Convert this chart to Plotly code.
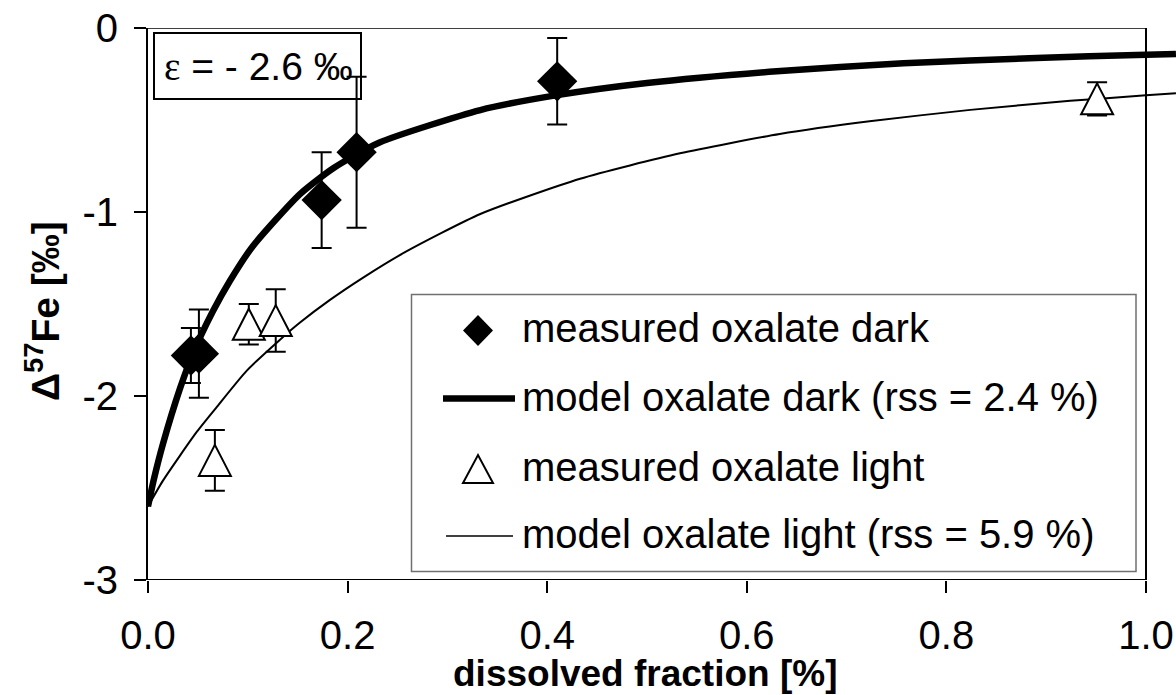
import plotly.graph_objects as go

# ---- data -------------------------------------------------------------
dark_f = [0.043, 0.051, 0.174, 0.209, 0.410]
dark_delta = [-1.78, -1.77, -0.935, -0.675, -0.29]
dark_err = [0.15, 0.24, 0.26, 0.41, 0.235]

light_f = [0.067, 0.101, 0.128, 0.951]
light_delta = [-2.35, -1.61, -1.59, -0.385]
light_err = [0.165, 0.11, 0.17, 0.09]

dark_model_f = [0.0, 0.006, 0.015, 0.032, 0.045, 0.065, 0.082, 0.105, 0.152,
                0.186, 0.232, 0.333, 0.41, 0.50, 0.63, 0.757, 0.89, 1.0, 1.03]
dark_model_delta = [-2.60, -2.45, -2.26, -1.96, -1.77, -1.54, -1.375, -1.186, -0.904,
                    -0.761, -0.622, -0.446, -0.365, -0.299, -0.235, -0.192, -0.163,
                    -0.145, -0.141]

light_model_f = [0.0, 0.015, 0.049, 0.069, 0.099, 0.132, 0.152, 0.182, 0.216,
                 0.258, 0.333, 0.433, 0.533, 0.633, 0.723, 0.824, 0.924, 1.0, 1.03]
light_model_delta = [-2.60, -2.46, -2.194, -2.059, -1.862, -1.695, -1.602, -1.479,
                     -1.355, -1.217, -1.011, -0.819, -0.681, -0.576, -0.507, -0.445,
                     -0.396, -0.366, -0.355]

x_ticks = [0.0, 0.2, 0.4, 0.6, 0.8, 1.0]
x_tick_text = ["0.0", "0.2", "0.4", "0.6", "0.8", "1.0"]
y_ticks = [0, -1, -2, -3]
y_tick_text = ["0", "-1", "-2", "-3"]

legend_labels = ["measured oxalate dark", "model oxalate dark (rss = 2.4 %)",
                 "measured oxalate light", "model oxalate light (rss = 5.9 %)"]

# ---- page geometry (pixels) -------------------------------------------
W, H = 1176, 695
ML, MR, MT, MB = 148, 0, 28, 115
PW, PH = W - ML - MR, H - MT - MB
X_UNIT = 998.0                      # pixels per unit of dissolved fraction
X_MAX = PW / X_UNIT

FONT = "Liberation Sans, Arial, sans-serif"


def px(x):
    return (x - ML) / PW


def py(y):
    return (H - MB - y) / PH


fig = go.Figure()

# model curves
fig.add_trace(go.Scatter(x=dark_model_f, y=dark_model_delta, mode="lines",
                         line=dict(color="black", width=6.5, shape="spline", smoothing=0.6),
                         hoverinfo="skip"))
fig.add_trace(go.Scatter(x=light_model_f, y=light_model_delta, mode="lines",
                         line=dict(color="black", width=2, shape="spline", smoothing=0.6),
                         hoverinfo="skip"))

# measured dark: filled diamonds with error bars
fig.add_trace(go.Scatter(x=dark_f, y=dark_delta, mode="markers",
                         marker=dict(symbol="diamond", size=31, color="black",
                                     line=dict(width=0)),
                         error_y=dict(type="data", array=dark_err, visible=True,
                                      color="black", thickness=2, width=10)))

# measured light: error bars from the trace, open triangles drawn on top
fig.add_trace(go.Scatter(x=light_f, y=light_delta, mode="markers",
                         marker=dict(size=1, color="rgba(0,0,0,0)"),
                         error_y=dict(type="data", array=light_err, visible=True,
                                      color="black", thickness=2, width=10)))

shapes = []
TRI = "M-16,-15.5 L16,-15.5 L0,15.5 Z"
for f, d in zip(light_f, light_delta):
    shapes.append(dict(type="path", xref="x", yref="y", xsizemode="pixel",
                       ysizemode="pixel", xanchor=f, yanchor=d, path=TRI,
                       fillcolor="white", line=dict(color="black", width=2),
                       layer="above"))

# plot frame (x axis line, top and right border only up to 1.0)
frame = dict(color="black", width=2)
shapes.append(dict(type="line", xref="x", yref="y", x0=0, x1=1.0, y0=-3, y1=-3,
                   line=frame, layer="below"))
shapes.append(dict(type="line", xref="x", yref="y", x0=0, x1=1.0, y0=0, y1=0,
                   line=dict(color="black", width=1.5), layer="below"))
shapes.append(dict(type="line", xref="x", yref="y", x0=1.0, x1=1.0, y0=0, y1=-3,
                   line=frame, layer="below"))

# epsilon box
shapes.append(dict(type="rect", xref="paper", yref="paper",
                   x0=px(154), x1=px(361), y0=py(33), y1=py(99),
                   line=dict(color="black", width=2), fillcolor="rgba(0,0,0,0)",
                   layer="below"))

# legend frame
shapes.append(dict(type="rect", xref="paper", yref="paper",
                   x0=px(411.5), x1=px(1136), y0=py(294.5), y1=py(571.5),
                   line=dict(color="#707070", width=1.5), fillcolor="white",
                   layer="below"))

rows_y = [330.5, 398.5, 469.0, 536.0]
# legend symbols
shapes.append(dict(type="path", xref="paper", yref="paper", xsizemode="pixel",
                   ysizemode="pixel", xanchor=px(478), yanchor=py(rows_y[0]),
                   path="M15,0 L0,15.5 L-15,0 L0,-15.5 Z", fillcolor="black",
                   line=dict(width=0), layer="above"))
shapes.append(dict(type="line", xref="paper", yref="paper",
                   x0=px(443), x1=px(515), y0=py(rows_y[1]), y1=py(rows_y[1]),
                   line=dict(color="black", width=6.5), layer="above"))
shapes.append(dict(type="path", xref="paper", yref="paper", xsizemode="pixel",
                   ysizemode="pixel", xanchor=px(478), yanchor=py(rows_y[2]),
                   path="M-15,-14 L15,-14 L0,14 Z", fillcolor="white",
                   line=dict(color="black", width=2), layer="above"))
shapes.append(dict(type="line", xref="paper", yref="paper",
                   x0=px(446), x1=px(513), y0=py(rows_y[3]), y1=py(rows_y[3]),
                   line=dict(color="black", width=1.5), layer="above"))

annotations = []
for label, yy in zip(legend_labels, rows_y):
    annotations.append(dict(xref="paper", yref="paper", x=px(520), y=py(yy - 2),
                            xanchor="left", yanchor="middle", showarrow=False,
                            text=label, font=dict(family=FONT, size=40, color="black")))

annotations.append(dict(xref="paper", yref="paper", x=px(258), y=py(67),
                        xanchor="center", yanchor="middle", showarrow=False,
                        text='<span style="font-family:Liberation Serif, DejaVu Serif, serif">\u03b5</span> = - 2.6 \u2030',
                        font=dict(family=FONT, size=39, color="black")))

# axis titles
annotations.append(dict(xref="paper", yref="paper", x=px(645), y=py(673),
                        xanchor="center", yanchor="middle", showarrow=False,
                        text="<b>dissolved fraction [%]</b>",
                        font=dict(family=FONT, size=37, color="black")))
annotations.append(dict(xref="paper", yref="paper", x=px(43), y=py(311),
                        xanchor="center", yanchor="middle", showarrow=False,
                        textangle=-90,
                        text="<b>\u0394<sup>57</sup>Fe [\u2030]</b>",
                        font=dict(family=FONT, size=39, color="black")))

fig.update_layout(
    width=W, height=H,
    margin=dict(l=ML, r=MR, t=MT, b=MB, pad=0),
    paper_bgcolor="white", plot_bgcolor="white",
    showlegend=False,
    font=dict(family=FONT, size=40, color="black"),
    shapes=shapes, annotations=annotations,
    xaxis=dict(range=[0, X_MAX], tickmode="array", tickvals=x_ticks,
               ticktext=x_tick_text, ticks="outside", ticklen=12, tickwidth=1.5,
               tickcolor="black", showline=False, showgrid=False, zeroline=False,
               ticklabelstandoff=8, tickfont=dict(family=FONT, size=40)),
    yaxis=dict(range=[-3, 0], tickmode="array", tickvals=y_ticks,
               ticktext=y_tick_text, ticks="outside", ticklen=12, tickwidth=1.5,
               tickcolor="black", showline=True, linecolor="black", linewidth=2,
               showgrid=False, zeroline=False, ticklabelstandoff=8,
               tickfont=dict(family=FONT, size=40)),
)

fig.write_html("out.html")
